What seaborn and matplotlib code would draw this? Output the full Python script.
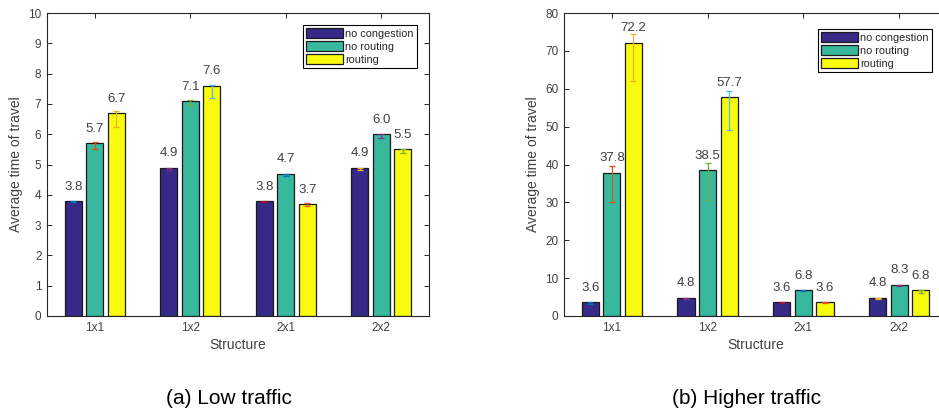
import matplotlib
matplotlib.use("Agg")
import matplotlib.pyplot as plt
import numpy as np
import pandas as pd
import seaborn as sns

structures = ["1x1", "1x2", "2x1", "2x2"]
conditions = ["no congestion", "no routing", "routing"]

# low traffic: mean values and asymmetric error (lower, upper), one list per condition
low_values = [[3.8, 4.9, 3.8, 4.9], [5.7, 7.1, 4.7, 6.0], [6.7, 7.6, 3.7, 5.5]]
low_err_lo = [[0.05, 0.07, 0.03, 0.07], [0.2, 0.13, 0.08, 0.13], [0.45, 0.4, 0.07, 0.13]]
low_err_hi = [[0.0, 0.0, 0.0, 0.0], [0.05, 0.02, 0.0, 0.02], [0.05, 0.02, 0.02, 0.02]]

# higher traffic
high_values = [[3.6, 4.8, 3.6, 4.8], [37.8, 38.5, 6.8, 8.3], [72.2, 57.7, 3.6, 6.8]]
high_err_lo = [[0.5, 0.3, 0.2, 0.2], [7.8, 8.0, 0.3, 0.3], [10.2, 8.5, 0.2, 0.8]]
high_err_hi = [[0.0, 0.0, 0.0, 0.0], [1.7, 1.8, 0.0, 0.0], [2.3, 1.8, 0.0, 0.0]]

bar_colors = ["#352A87", "#38B99E", "#F9FB0E"]
err_colors = ["#0072BD", "#D95319", "#EDB120", "#7E2F8E", "#77AC30", "#4DBEEE", "#A2142F"]

sns.set_theme(style="ticks")
plt.rcParams["font.family"] = ["Liberation Sans", "DejaVu Sans"]
txt = "#404040"


def make_frame(values):
    rows = []
    for ci, cond in enumerate(conditions):
        for si, s in enumerate(structures):
            rows.append({"Structure": s, "condition": cond, "value": values[ci][si]})
    return pd.DataFrame(rows)


def draw(ax, values, err_lo, err_hi, ymax, ystep, legend_anchor):
    df = make_frame(values)
    sns.barplot(data=df, x="Structure", y="value", hue="condition",
                palette=bar_colors, saturation=1, width=0.675, gap=0.2, errorbar=None,
                edgecolor="#1a1a1a", linewidth=0.9, ax=ax)
    bars = [c for c in ax.containers]
    for c in bars:
        ax.bar_label(c, fmt="%.1f", padding=6, fontsize=9.5, color=txt)
    for ci, c in enumerate(bars):
        for si, p in enumerate(c.patches):
            xc = p.get_x() + p.get_width() / 2
            col = err_colors[(si * 3 + ci) % 7]
            ax.errorbar(xc, values[ci][si],
                        yerr=[[err_lo[ci][si]], [err_hi[ci][si]]],
                        fmt="none", ecolor=col, elinewidth=0.9, capsize=2, capthick=0.9)
    ax.set_xlim(-0.5, 3.5)
    ax.set_ylim(0, ymax)
    ax.set_yticks(np.arange(0, ymax + 0.01, ystep))
    ax.set_xlabel("Structure", fontsize=10, color=txt, labelpad=3)
    ax.set_ylabel("Average time of travel", fontsize=10, color=txt, labelpad=4)
    ax.tick_params(direction="in", top=True, right=True, length=3.5, width=0.7,
                   labelsize=8.5, colors="#262626", labelcolor=txt, pad=4)
    for sp in ax.spines.values():
        sp.set_visible(True)
        sp.set_color("#262626")
        sp.set_linewidth(0.8)
    leg = ax.legend(loc="upper right", bbox_to_anchor=legend_anchor, borderaxespad=0,
                    fontsize=7.8, frameon=True, fancybox=False, framealpha=1,
                    edgecolor="black", handlelength=3.4, handleheight=1.0,
                    labelspacing=0.22, borderpad=0.3, handletextpad=0.2)
    leg.get_frame().set_linewidth(0.8)
    for t in leg.get_texts():
        t.set_color("#262626")


fig = plt.figure(figsize=(9.39, 4.17), dpi=100)
ax1 = fig.add_axes([47 / 939, 101 / 417, 382 / 939, 303 / 417])
ax2 = fig.add_axes([564 / 939, 101 / 417, 383 / 939, 303 / 417])

draw(ax1, low_values, low_err_lo, low_err_hi, 10, 1, (1 - 12 / 382, 1 - 12 / 303))
draw(ax2, high_values, high_err_lo, high_err_hi, 80, 10, (1 - 15 / 383, 1 - 16 / 303))

fig.text(229 / 939, 1 - 398 / 417, "(a) Low traffic", ha="center", va="center",
         fontsize=15, color="black")
fig.text(747 / 939, 1 - 398 / 417, "(b) Higher traffic", ha="center", va="center",
         fontsize=15, color="black")

fig.savefig("out.png", dpi=100)
